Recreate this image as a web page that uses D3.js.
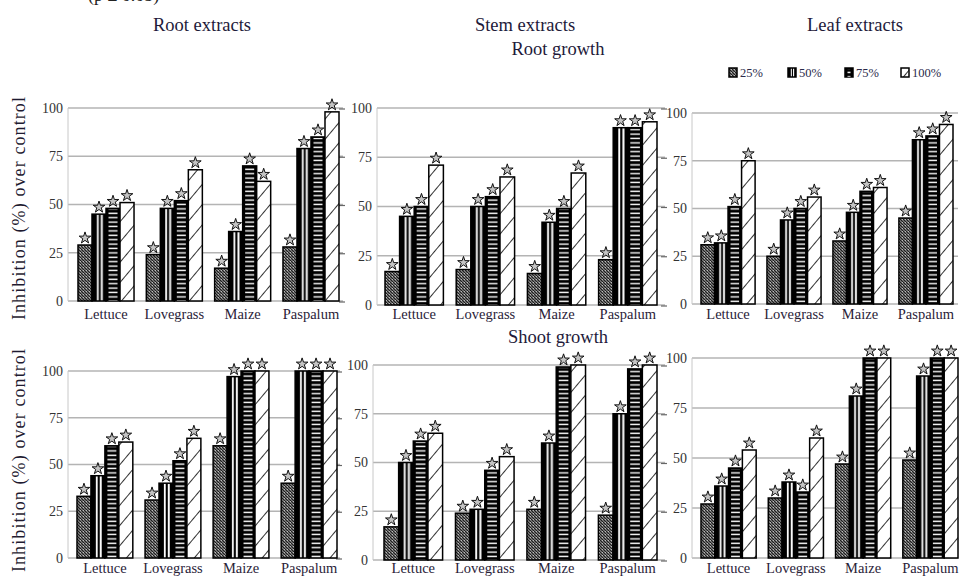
<!DOCTYPE html>
<html>
<head>
<meta charset="utf-8">
<script src="https://cdn.jsdelivr.net/npm/d3@7"></script>
<style>
  html, body { margin: 0; padding: 0; background: #fff; }
  svg { display: block; }
</style>
</head>
<body>
<svg id="chart" width="960" height="576"></svg>
<script>
// ---------------- DATA ----------------
const categories = ["Lettuce", "Lovegrass", "Maize", "Paspalum"];
const concentrations = ["25%", "50%", "75%", "100%"];
const extracts = ["Root extracts", "Stem extracts", "Leaf extracts"];
const growthTypes = ["Root growth", "Shoot growth"];
const yTicks = [0, 25, 50, 75, 100];
const yAxisTitle = "Inhibition (%) over control";
const topNote = "(p \u2264 0.05)";

// inhibition (%) per category, for the 4 concentrations
const rootExtractRootGrowth  = [[29, 45, 48, 51], [24, 48, 52, 68], [17, 36, 70, 62], [28, 79, 85, 98]];
const stemExtractRootGrowth  = [[17, 45, 50, 71], [18, 50, 55, 65], [16, 42, 49, 67], [23, 90, 90, 93]];
const leafExtractRootGrowth  = [[31, 32, 51, 75], [25, 44, 50, 56], [33, 48, 59, 61], [45, 86, 88, 94]];
const rootExtractShootGrowth = [[33, 44, 60, 62], [31, 40, 52, 64], [60, 97, 100, 100], [40, 100, 100, 100]];
const stemExtractShootGrowth = [[17, 50, 61, 65], [24, 26, 46, 53], [26, 60, 99, 100], [23, 75, 98, 100]];
const leafExtractShootGrowth = [[27, 36, 45, 54], [30, 38, 33, 60], [47, 81, 100, 100], [49, 91, 100, 100]];

const panelValues = [
  rootExtractRootGrowth, stemExtractRootGrowth, leafExtractRootGrowth,
  rootExtractShootGrowth, stemExtractShootGrowth, leafExtractShootGrowth
];

// ---------------- LAYOUT ----------------
const FONT = "'Liberation Serif', 'Times New Roman', Times, 'DejaVu Serif', serif";
const layout = [
  { axisX: 68,  gridEnd: 343, band: [78, 339],  y0: 301, y100: 108, labelY: 319 },
  { axisX: 377, gridEnd: 665, band: [385, 657], y0: 305, y100: 108, labelY: 319 },
  { axisX: 692, gridEnd: 958, band: [701, 953], y0: 304, y100: 113, labelY: 319 },
  { axisX: 68,  gridEnd: 340, band: [77, 337],  y0: 558, y100: 371, labelY: 573 },
  { axisX: 373, gridEnd: 665, band: [384, 657], y0: 560, y100: 365, labelY: 573 },
  { axisX: 692, gridEnd: 958, band: [701, 958], y0: 558, y100: 358, labelY: 573 }
];

const svg = d3.select("#chart").attr("font-family", FONT);
const defs = svg.append("defs");

// 25% : dark dense hatch
const p25 = defs.append("pattern").attr("id", "p25")
  .attr("patternUnits", "userSpaceOnUse").attr("width", 3).attr("height", 3);
p25.append("rect").attr("width", 3).attr("height", 3).attr("fill", "#6e6e6e");
p25.append("path").attr("d", "M-1,-1 L4,4").attr("stroke", "#1e1e1e").attr("stroke-width", 1);
p25.append("rect").attr("x", 2).attr("y", 0).attr("width", 1).attr("height", 1).attr("fill", "#bbb");

// 50% : black with two white vertical stripes
const p50 = defs.append("pattern").attr("id", "p50")
  .attr("patternUnits", "objectBoundingBox").attr("patternContentUnits", "objectBoundingBox")
  .attr("width", 1).attr("height", 1);
p50.append("rect").attr("width", 1).attr("height", 1).attr("fill", "#000");
p50.append("rect").attr("x", 0.35).attr("width", 0.13).attr("height", 1).attr("fill", "#fff");
p50.append("rect").attr("x", 0.63).attr("width", 0.14).attr("height", 1).attr("fill", "#fff");

// 75% : white horizontal stripes (drawn over black)
const p75 = defs.append("pattern").attr("id", "p75")
  .attr("patternUnits", "userSpaceOnUse").attr("width", 10).attr("height", 4.4);
p75.append("rect").attr("y", 1.4).attr("width", 10).attr("height", 1.4).attr("fill", "#fff");

// 100% : white with sparse diagonal lines
const p100 = defs.append("pattern").attr("id", "p100")
  .attr("patternUnits", "userSpaceOnUse").attr("width", 20).attr("height", 13)
  .attr("patternTransform", "rotate(-50)");
p100.append("rect").attr("width", 20).attr("height", 13).attr("fill", "#fff");
p100.append("line").attr("x1", 0).attr("x2", 20).attr("y1", 0.5).attr("y2", 0.5)
  .attr("stroke", "#333").attr("stroke-width", 1);

const star = d3.symbol().type(d3.symbolStar).size(42);

function drawBar(g, x, y, w, h, ci) {
  if (h <= 0) return;
  if (ci === 2) {
    g.append("rect").attr("x", x).attr("y", y).attr("width", w).attr("height", h)
      .attr("fill", "#000").attr("stroke", "#000").attr("stroke-width", 1.5);
    g.append("rect").attr("x", x + 2.5).attr("y", y + 1).attr("width", Math.max(0, w - 5)).attr("height", Math.max(0, h - 1))
      .attr("fill", "url(#p75)");
  } else {
    const fill = ci === 0 ? "url(#p25)" : ci === 1 ? "url(#p50)" : "url(#p100)";
    g.append("rect").attr("x", x).attr("y", y).attr("width", w).attr("height", h)
      .attr("fill", fill).attr("stroke", "#000").attr("stroke-width", 1.5);
  }
}

// ---------------- PANELS ----------------
panelValues.forEach((vals, pi) => {
  const L = layout[pi];
  const col = pi % 3;
  const g = svg.append("g");

  const y = d3.scaleLinear().domain([0, 100]).range([L.y0, L.y100]);
  const x = d3.scaleBand().domain(categories).range(L.band).paddingInner(0.18).paddingOuter(0);
  const xi = d3.scaleBand().domain(concentrations).range([0, x.bandwidth()]).padding(0);

  // gridlines
  g.selectAll("line.grid").data(yTicks).enter().append("line")
    .attr("x1", L.axisX).attr("x2", L.gridEnd)
    .attr("y1", d => y(d)).attr("y2", d => y(d))
    .attr("stroke", "#b4b4b4").attr("stroke-width", 1.4);
  // left axis line
  g.append("line").attr("x1", L.axisX).attr("x2", L.axisX)
    .attr("y1", y(0)).attr("y2", y(100)).attr("stroke", "#c8c8c8").attr("stroke-width", 1);

  // y axis via d3 axis
  const yAxis = d3.axisLeft(y).tickValues(yTicks).tickSize(0).tickPadding(5);
  const ya = g.append("g").attr("transform", `translate(${L.axisX},0)`).call(yAxis)
    .attr("font-family", FONT);
  ya.select(".domain").remove();
  ya.selectAll("text").attr("font-size", 14).attr("fill", "#333").attr("font-family", FONT);

  // small right tick dashes (neighbouring axis)
  if (col < 2) {
    g.selectAll("line.rt").data(yTicks).enter().append("line")
      .attr("x1", L.gridEnd - 4).attr("x2", L.gridEnd + 2)
      .attr("y1", d => y(d) + 1).attr("y2", d => y(d) + 1)
      .attr("stroke", "#666").attr("stroke-width", 1.2);
  }

  // bars
  categories.forEach((cat, k) => {
    vals[k].forEach((v, ci) => {
      const bx = x(cat) + xi(concentrations[ci]);
      const bw = xi.bandwidth();
      drawBar(g, bx, y(v), bw, y(0) - y(v), ci);
    });
  });
  // stars
  categories.forEach((cat, k) => {
    vals[k].forEach((v, ci) => {
      const cx = x(cat) + xi(concentrations[ci]) + xi.bandwidth() / 2;
      g.append("path").attr("d", star)
        .attr("transform", `translate(${cx},${y(v) - 7})`)
        .attr("fill", "#c4c4c4").attr("stroke", "#111").attr("stroke-width", 1);
    });
  });

  // category labels
  g.selectAll("text.cat").data(categories).enter().append("text")
    .attr("x", d => x(d) + x.bandwidth() / 2).attr("y", L.labelY)
    .attr("text-anchor", "middle").attr("font-size", 14.5).attr("font-family", FONT)
    .attr("fill", "#2a2238")
    .text(d => d);
});

// ---------------- TITLES ----------------
const titleX = [202, 525, 855];
extracts.forEach((t, i) => {
  svg.append("text").attr("x", titleX[i]).attr("y", 31).attr("font-family", FONT)
    .attr("text-anchor", "middle").attr("font-size", 18.5).attr("fill", "#1e1a3a").text(t);
});
svg.append("text").attr("x", 558).attr("y", 55).attr("text-anchor", "middle").attr("font-family", FONT)
  .attr("font-size", 18.5).attr("fill", "#1e1a3a").text(growthTypes[0]);
svg.append("text").attr("x", 558).attr("y", 343).attr("text-anchor", "middle").attr("font-family", FONT)
  .attr("font-size", 18.5).attr("fill", "#1e1a3a").text(growthTypes[1]);

svg.append("text").attr("x", 88).attr("y", 1).attr("font-size", 18).attr("font-family", FONT)
  .attr("fill", "#222").text(topNote);

// y axis titles
[208, 460].forEach(cy => {
  svg.append("text").attr("transform", `translate(25,${cy}) rotate(-90)`).attr("font-family", FONT)
    .attr("text-anchor", "middle").attr("font-size", 18).attr("letter-spacing", 1.1)
    .attr("fill", "#1e1a30").text(yAxisTitle);
});

// ---------------- LEGEND ----------------
const legendX = [729, 788, 845, 901];
concentrations.forEach((c, i) => {
  const lg = svg.append("g");
  drawBar(lg, legendX[i], 68, 8, 9, i);
  lg.append("text").attr("x", legendX[i] + 11).attr("y", 77).attr("font-family", FONT)
    .attr("font-size", 12.5).attr("fill", "#2a2a4a").text(c);
});
</script>
</body>
</html>
